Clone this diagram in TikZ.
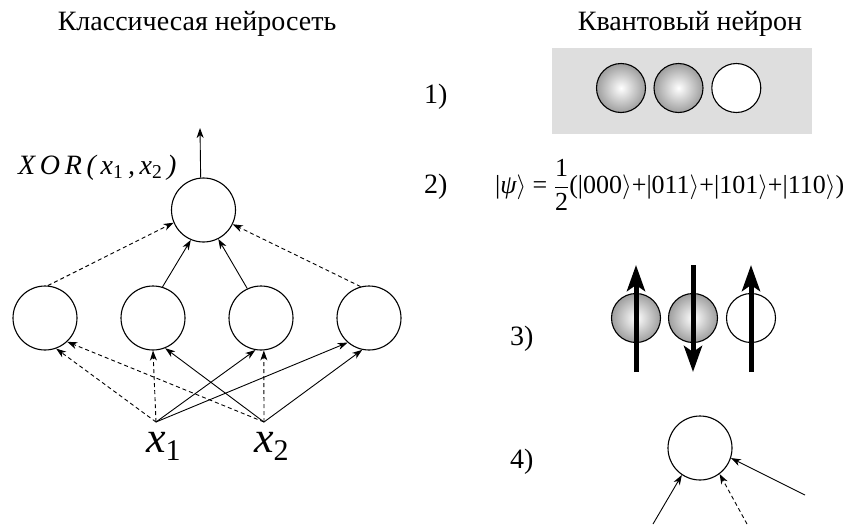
\documentclass[tikz,border=0pt]{standalone}
\usepackage{fontspec}
\setmainfont{Liberation Serif}
\newfontfamily\tms{Liberation Serif}
\usetikzlibrary{arrows.meta}
\begin{document}
\begin{tikzpicture}[x=1pt,y=-1pt,
  neuron/.style={circle,draw,line width=1.1pt,minimum size=64pt,inner sep=0pt},
  arr/.style={-{Stealth[length=10pt,width=7pt,inset=3pt]},line width=0.9pt},
  darr/.style={arr,dash pattern=on 4pt off 3pt},
  ttl/.style={font=\tms\fontsize{28}{30}\selectfont,anchor=base,inner sep=0pt},
  lbl/.style={font=\tms\fontsize{28}{30}\selectfont,anchor=base west,inner sep=0pt},
  ball/.style={circle,draw,line width=1.1pt,minimum size=49pt,inner sep=0pt,inner color=white,outer color=black!38},
  wball/.style={circle,draw,line width=1.1pt,minimum size=49pt,inner sep=0pt,fill=white},
  spin/.style={line width=5pt,-{Stealth[length=26pt,width=18pt,inset=6pt]}},
  graybox/.style={fill=black!13,minimum width=260pt,minimum height=86pt,inner sep=0pt}
]
\useasboundingbox (0,0) rectangle (850,525);
% titles
\node[ttl] (t1) at (197,30) {Классичесая нейросеть};
\node[ttl] (t2) at (690,30) {Квантовый нейрон};
% classical network
\node[neuron] (T) at (203.5,210) {};
\node[neuron] (H1) at (45,318) {};
\node[neuron] (H2) at (153,318) {};
\node[neuron] (H3) at (261,318) {};
\node[neuron] (H4) at (369,318) {};
\coordinate (X1) at (156,422);
\coordinate (X2) at (264,422);
\coordinate (out) at (200,128);
\draw[arr] (T.95) -- (out);
\node[anchor=base west,inner sep=0pt,font=\tms\fontsize{28}{30}\selectfont\itshape] (xor) at (18,174)
  {X\,O\,R\,(\,x\textsubscript{\upshape 1}\,,\,x\textsubscript{\upshape 2}\,)};
\draw[darr] (H1.85) -- (T.-157);
\draw[arr] (H2.73) -- (T.-113);
\draw[arr] (H3.115) -- (T.-63);
\draw[darr] (H4.105) -- (T.-26);
\draw[darr] (X1) -- (H1.-70);
\draw[darr] (X2) -- (H1.-47);
\draw[darr] (X1) -- (H2.-90);
\draw[arr] (X2) -- (H2.-68);
\draw[arr] (X1) -- (H3.-100);
\draw[darr] (X2) -- (H3.-85);
\draw[arr] (X1) -- (H4.-131);
\draw[arr] (X2) -- (H4.-102);
\node[anchor=base west,inner sep=0pt,font=\tms\fontsize{44}{46}\selectfont] (x1l) at (146,452)
  {\itshape x\upshape\raisebox{-0.2em}{\fontsize{30}{30}\selectfont 1}};
\node[anchor=base west,inner sep=0pt,font=\tms\fontsize{44}{46}\selectfont] (x2l) at (254,452)
  {\itshape x\upshape\raisebox{-0.2em}{\fontsize{30}{30}\selectfont 2}};
% quantum neuron
\node[lbl] (l1) at (424,103) {1)};
\node[graybox] (box) at (682,91) {};
\node[ball] (b1) at (621,88) {};
\node[ball] (b2) at (678.5,88) {};
\node[wball] (b3) at (736.3,88) {};
\node[lbl] (l2) at (424,193) {2)};
\node[anchor=base west,inner sep=0pt,font=\tms\fontsize{26}{30}\selectfont] (psi) at (495,193)
  {|{\itshape ψ}$\rangle$ = $\displaystyle\frac{\mbox{1}}{\mbox{2}}$(|000$\rangle$+|011$\rangle$+|101$\rangle$+|110$\rangle$)};
\node[lbl] (l3) at (510,345) {3)};
\node[ball] (s1) at (636,318) {};
\node[ball] (s2) at (693,318) {};
\node[wball] (s3) at (751,318) {};
\coordinate (s1b) at (636,372); \coordinate (s1t) at (636,265);
\coordinate (s2t) at (693,265); \coordinate (s2b) at (693,372);
\coordinate (s3b) at (751,372); \coordinate (s3t) at (751,265);
\draw[spin] (s1b) -- (s1t);
\draw[spin] (s2t) -- (s2b);
\draw[spin] (s3b) -- (s3t);
\node[lbl] (l4) at (510,468) {4)};
\node[neuron] (Q) at (700,448) {};
\coordinate (q1) at (653,524);
\coordinate (q2) at (747,524);
\coordinate (q3) at (805,495);
\draw[arr] (q1) -- (Q.-124);
\draw[darr] (q2) -- (Q.-53);
\draw[arr] (q3) -- (Q.-18);
\end{tikzpicture}
\end{document}
